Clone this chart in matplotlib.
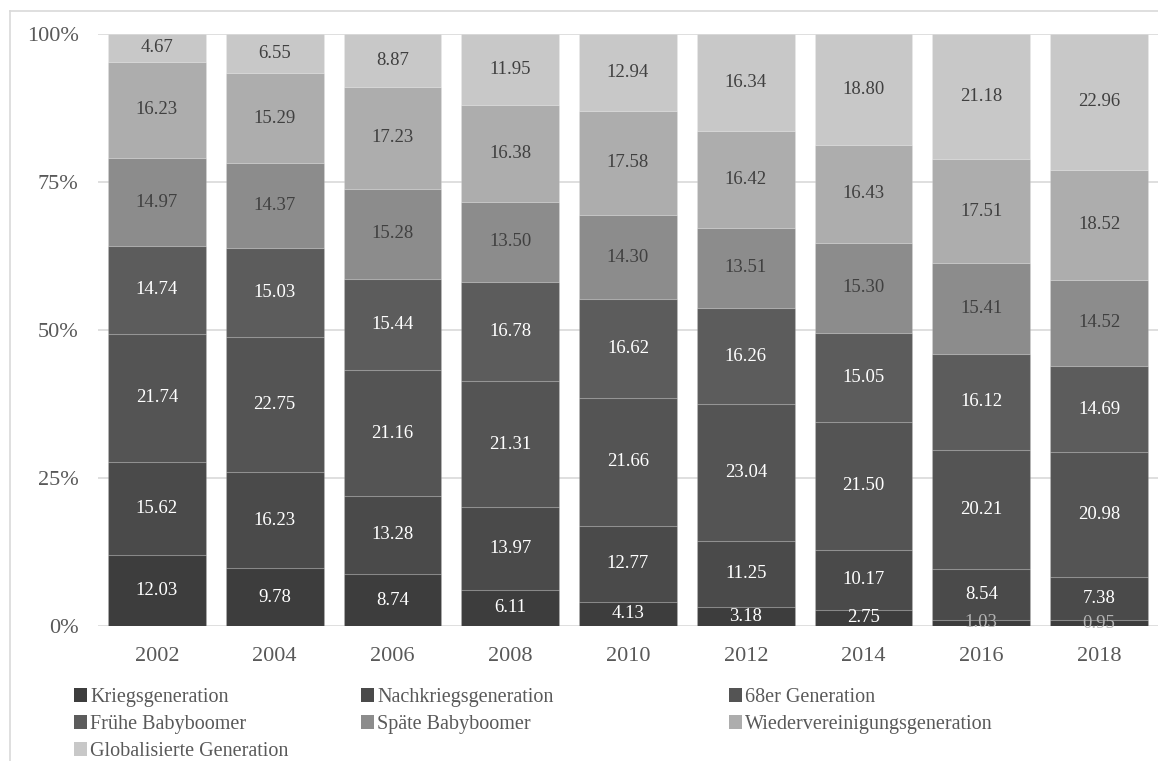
import matplotlib
matplotlib.use("Agg")
import matplotlib.pyplot as plt
from matplotlib.patches import Patch
from matplotlib.lines import Line2D
import numpy as np

plt.rcParams['font.family'] = ['Liberation Serif', 'DejaVu Serif']

years = ["2002", "2004", "2006", "2008", "2010", "2012", "2014", "2016", "2018"]

generations = [
    "Kriegsgeneration",
    "Nachkriegsgeneration",
    "68er Generation",
    "Frühe Babyboomer",
    "Späte Babyboomer",
    "Wiedervereinigungsgeneration",
    "Globalisierte Generation",
]

kriegsgeneration = [12.03, 9.78, 8.74, 6.11, 4.13, 3.18, 2.75, 1.03, 0.95]
nachkriegsgeneration = [15.62, 16.23, 13.28, 13.97, 12.77, 11.25, 10.17, 8.54, 7.38]
generation_68er = [21.74, 22.75, 21.16, 21.31, 21.66, 23.04, 21.50, 20.21, 20.98]
fruehe_babyboomer = [14.74, 15.03, 15.44, 16.78, 16.62, 16.26, 15.05, 16.12, 14.69]
spaete_babyboomer = [14.97, 14.37, 15.28, 13.50, 14.30, 13.51, 15.30, 15.41, 14.52]
wiedervereinigung = [16.23, 15.29, 17.23, 16.38, 17.58, 16.42, 16.43, 17.51, 18.52]
globalisiert = [4.67, 6.55, 8.87, 11.95, 12.94, 16.34, 18.80, 21.18, 22.96]

series = [kriegsgeneration, nachkriegsgeneration, generation_68er,
          fruehe_babyboomer, spaete_babyboomer, wiedervereinigung, globalisiert]

colors = ['#3d3d3d', '#4a4a4a', '#545454', '#5c5c5c', '#8c8c8c', '#adadad', '#c8c8c8']
label_colors = ['#ffffff', '#ffffff', '#ffffff', '#ffffff', '#404040', '#404040', '#404040']
axis_text = '#595959'
grid_color = '#d9d9d9'

W, H = 1158, 761
fig = plt.figure(figsize=(W / 100, H / 100), dpi=100)
ax = fig.add_axes([98 / W, 1 - 626 / H, (W - 98) / W, (626 - 34) / H])

x = np.arange(len(years))
bottom = np.zeros(len(years))
bar_w = 0.83
for vals, col, lcol, name in zip(series, colors, label_colors, generations):
    vals = np.array(vals)
    ax.bar(x, vals, bar_w, bottom=bottom, color=col, label=name,
           edgecolor=(1, 1, 1, 0.12), linewidth=0.8, zorder=3)
    for xi, b, v in zip(x, bottom, vals):
        c = lcol if v >= 2 else '#b4b4b4'
        ax.text(xi, b + v / 2, f"{v:.2f}", ha='center', va='center',
                fontsize=13.5, color=c, zorder=5)
    bottom += vals

ax.set_xlim(-0.5, len(years) - 0.5)
ax.set_ylim(0, 100)
ax.set_yticks([0, 25, 50, 75, 100])
ax.set_yticklabels(["0%", "25%", "50%", "75%", "100%"])
ax.set_xticks(x)
ax.set_xticklabels(years)
ax.tick_params(axis='both', length=0, labelsize=16, colors=axis_text)
ax.tick_params(axis='y', pad=14)
ax.tick_params(axis='x', pad=15)
for s in ax.spines.values():
    s.set_visible(False)
ax.yaxis.grid(True, color=grid_color, linewidth=1.2, zorder=0)
ax.set_axisbelow(True)

# chart area frame (left and top edges)
fig.add_artist(Line2D([10 / W, 10 / W], [-0.01, 1 - 10.5 / H], transform=fig.transFigure,
                      color=grid_color, linewidth=1.2))
fig.add_artist(Line2D([10 / W, 1.01], [1 - 10.5 / H, 1 - 10.5 / H], transform=fig.transFigure,
                      color=grid_color, linewidth=1.2))

# legend laid out in three columns, read row by row
handles = [Patch(facecolor=c, edgecolor='none') for c in colors]
columns = [([0, 3, 6], 74), ([1, 4], 361), ([2, 5], 729)]
for idx, xpix in columns:
    fig.legend([handles[i] for i in idx], [generations[i] for i in idx],
               loc='upper left', bbox_to_anchor=(xpix / W, 1 - 688 / H),
               frameon=False, fontsize=14.5, labelcolor=axis_text,
               handlelength=0.65, handleheight=0.65, handletextpad=0.15,
               labelspacing=0.4, borderpad=0, borderaxespad=0)

fig.savefig("out.png", dpi=100)
